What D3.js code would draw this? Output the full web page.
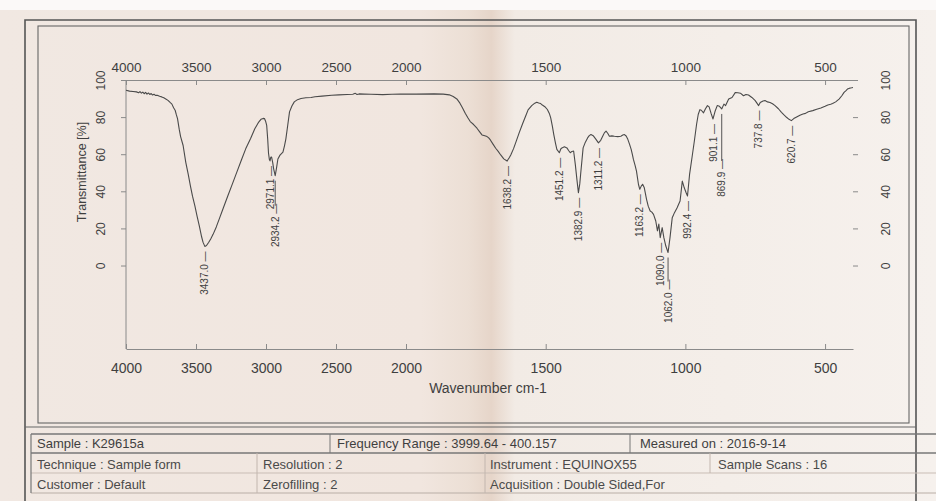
<!DOCTYPE html>
<html>
<head>
<meta charset="utf-8">
<script src="https://cdn.jsdelivr.net/npm/d3@7/dist/d3.min.js"></script>
<style>
  html, body { margin: 0; padding: 0; background: #f4ece6; }
  svg { display: block; }
  text { font-family: "Liberation Sans", Arial, sans-serif; }
</style>
</head>
<body>
<svg id="chart" width="936" height="501"></svg>
<script>
// ---------------- data ----------------
const wavenumbers = [
  3999.6, 3975, 3950, 3925, 3910, 3900, 3890, 3880, 3870, 3860, 3850, 3840, 3830, 3820, 3810, 3800,
  3790, 3777, 3760, 3745, 3730, 3716, 3700, 3685, 3672, 3660, 3649, 3640, 3632, 3620, 3610, 3592,
  3573, 3555, 3540, 3525, 3508, 3492, 3476, 3460, 3450, 3437, 3425, 3410, 3395, 3378, 3355, 3335,
  3305, 3273, 3240, 3209, 3175, 3145, 3110, 3080, 3055, 3036, 3020, 3011, 3003, 2995, 2988, 2982,
  2976, 2971.1, 2966, 2960, 2952, 2945, 2934.2, 2925, 2915, 2900, 2879, 2868, 2858, 2845, 2832, 2815,
  2798, 2775, 2750, 2715, 2678, 2650, 2600, 2531, 2480, 2420, 2380, 2362, 2350, 2335, 2300, 2250,
  2166, 2100, 2040, 1964, 1900, 1867, 1845, 1831, 1818, 1807, 1798, 1788, 1778, 1770, 1758, 1746,
  1737, 1728, 1718, 1710, 1704, 1698, 1688, 1679, 1670, 1661, 1650, 1638.2, 1630, 1625, 1615, 1606,
  1595, 1582, 1572, 1563, 1550, 1539, 1532, 1525, 1518, 1512, 1503, 1494, 1487, 1482, 1476, 1471,
  1465, 1460, 1451.2, 1446, 1442, 1433, 1424, 1418, 1412, 1406, 1400, 1394, 1388, 1382.9, 1378, 1375,
  1370, 1366, 1358, 1350, 1344, 1338, 1330, 1320, 1311.2, 1303, 1296, 1290, 1284, 1278, 1272, 1263,
  1254, 1242, 1231, 1224, 1218, 1212, 1206, 1200, 1194, 1190, 1186, 1180, 1175, 1168, 1163.2, 1158,
  1153, 1147, 1143, 1139, 1133, 1126, 1120, 1114, 1106, 1100, 1095, 1090.0, 1083, 1077, 1070, 1062.0,
  1055, 1047, 1039, 1030, 1019, 1011, 1004, 998, 992.4, 985, 976, 968, 960, 954, 948, 943,
  935, 928, 921, 915, 908, 901.1, 894, 886, 878, 869.9, 862, 856, 845, 833, 821, 812,
  803, 792, 783, 774, 762, 750, 737.8, 732, 722, 715, 706, 697, 688, 679, 667, 656,
  647, 638, 629, 620.7, 612, 600, 590, 579, 570, 560, 544, 530, 515, 500, 490, 480,
  473, 462, 450, 440, 432, 425, 420, 412, 405, 400.2
];
const transmittance = [
  94.5, 94.0, 93.8, 93.6, 93.1, 93.7, 92.9, 93.5, 92.6, 93.3, 92.4, 93.0, 92.2, 92.7, 91.9, 92.3,
  91.7, 91.8, 91.2, 90.9, 90.4, 89.8, 89.0, 87.9, 87.0, 85.0, 83.7, 81.2, 79.2, 73.5, 69.5, 64.7,
  55.6, 49.0, 42.9, 37.4, 32.1, 26.5, 21.2, 15.5, 12.6, 10.3, 10.8, 12.4, 14.3, 16.8, 20.8, 24.9,
  31.0, 37.5, 44.0, 50.2, 57.0, 62.9, 68.5, 73.7, 77.0, 78.8, 79.3, 79.2, 77.8, 75.5, 68.3, 60.5,
  57.2, 56.4, 58.3, 58.5, 55.5, 52.0, 48.4, 52.5, 57.4, 59.5, 61.1, 64.5, 68.3, 75.5, 82.8, 86.0,
  88.2, 89.4, 90.0, 90.4, 90.6, 91.0, 91.3, 91.8, 92.0, 92.2, 92.3, 92.8, 92.2, 92.5, 92.4, 92.3,
  92.1, 92.3, 92.4, 92.4, 92.5, 92.4, 92.0, 91.1, 89.8, 87.5, 85.0, 82.1, 79.5, 77.6, 76.0, 74.0,
  72.2, 70.4, 69.9, 69.5, 68.8, 67.7, 65.3, 63.2, 61.5, 59.6, 57.5, 56.3, 58.2, 59.6, 63.0, 66.8,
  71.5, 76.7, 80.5, 83.9, 86.2, 87.5, 88.0, 87.6, 87.3, 86.5, 85.6, 84.1, 82.0, 79.6, 75.0, 70.6,
  66.0, 62.6, 60.8, 62.8, 63.4, 64.0, 63.4, 62.0, 60.8, 61.5, 61.7, 54.5, 46.0, 39.2, 44.0, 49.1,
  57.0, 63.4, 66.5, 68.8, 70.0, 70.6, 70.0, 68.0, 66.1, 67.5, 69.7, 71.5, 72.4, 71.3, 69.7, 69.9,
  69.7, 69.5, 69.7, 70.3, 70.6, 69.8, 68.0, 65.4, 62.6, 60.0, 57.2, 54.0, 50.9, 43.8, 41.1, 42.8,
  43.8, 41.9, 38.8, 35.7, 32.0, 29.4, 28.8, 27.6, 24.0, 18.7, 22.3, 15.0, 20.4, 15.0, 10.5, 7.0,
  15.0, 25.8, 28.5, 31.0, 34.8, 45.5, 41.9, 39.5, 37.5, 49.1, 58.5, 67.0, 76.0, 81.4, 84.0, 83.7,
  82.3, 84.5, 86.2, 85.5, 82.0, 79.0, 83.0, 86.2, 85.8, 84.4, 87.0, 86.2, 89.7, 90.6, 93.3, 93.1,
  92.9, 91.5, 92.2, 91.9, 90.6, 88.9, 86.2, 87.9, 88.7, 88.9, 88.2, 87.9, 87.2, 86.2, 84.5, 82.6,
  81.2, 79.9, 78.8, 78.1, 79.2, 80.2, 81.0, 81.7, 82.0, 82.9, 83.5, 84.2, 84.9, 85.8, 86.5, 86.9,
  87.3, 88.2, 89.7, 91.5, 93.3, 94.3, 95.1, 95.6, 95.8, 96.0
];
const peakWavenumbers = [3437.0, 2971.1, 2934.2, 1638.2, 1451.2, 1382.9, 1311.2, 1163.2, 1090.0, 1062.0, 992.4, 901.1, 869.9, 737.8, 620.7];
const xTicks = [4000, 3500, 3000, 2500, 2000, 1500, 1000, 500];
const yTicks = [0, 20, 40, 60, 80, 100];
const xTitle = "Wavenumber cm-1";
const yTitle = "Transmittance [%]";
const infoRow1 = ["Sample : K29615a", "Frequency Range : 3999.64 - 400.157", "Measured on : 2016-9-14"];
const infoRow2 = ["Technique : Sample form", "Resolution : 2", "Instrument :  EQUINOX55", "Sample Scans : 16"];
const infoRow3 = ["Customer : Default", "Zerofilling : 2", "Acquisition :  Double Sided,For"];

// ---------------- layout ----------------
const svg = d3.select("#chart");
const W = 936, H = 501;
const plot = { left: 126, right: 853, top: 80, bottom: 349 };

// background paper
const defs = svg.append("defs");
const grad = defs.append("linearGradient").attr("id", "paper").attr("x1", "0").attr("x2", "1").attr("y1", "0").attr("y2", "0");
[["0%", "#f1e8e2"], ["45%", "#f1e6df"], ["50%", "#ecdfd5"], ["52.5%", "#e6d5c9"], ["55%", "#f2ebe5"], ["100%", "#f6f1ed"]]
  .forEach(([o, c]) => grad.append("stop").attr("offset", o).attr("stop-color", c));
svg.append("rect").attr("width", W).attr("height", H).attr("fill", "url(#paper)");
svg.append("rect").attr("width", W).attr("height", 10).attr("fill", "#fbf9f8");

// frames
const frame = svg.append("g").attr("fill", "none");
frame.append("path").attr("d", `M25,${H} V20 H916 V${H}`).attr("stroke", "#555").attr("stroke-width", 1.6);
frame.append("rect").attr("x", 38).attr("y", 26).attr("width", 871).attr("height", 397).attr("stroke", "#666").attr("stroke-width", 1.1);
frame.append("line").attr("x1", 25).attr("x2", 916).attr("y1", 427).attr("y2", 427).attr("stroke", "#666").attr("stroke-width", 1.1);

// ---------------- scales ----------------
const x = d3.scaleLinear().domain([4000, 2000, 400]).range([plot.left, 406, plot.right]);
const y = d3.scaleLinear().domain([-45, 100]).range([plot.bottom, plot.top]);

const axisColor = "#8a8a8a";
const textColor = "#3f3f3f";

// top axis
const gTop = svg.append("g").attr("transform", `translate(0,${plot.top})`)
  .call(d3.axisTop(x).tickValues(xTicks).tickSizeInner(-5).tickSizeOuter(0).tickPadding(8).tickFormat(d3.format("d")));
// bottom axis
const gBot = svg.append("g").attr("transform", `translate(0,${plot.bottom})`)
  .call(d3.axisBottom(x).tickValues(xTicks).tickSizeInner(-5).tickSizeOuter(0).tickPadding(14).tickFormat(d3.format("d")));
gTop.selectAll("text").attr("font-size", 13.5);
gBot.selectAll("text").attr("font-size", 14);
[gTop, gBot].forEach(g => {
  g.select(".domain").attr("stroke", axisColor).attr("stroke-width", 1);
  g.selectAll(".tick line").attr("stroke", axisColor);
  g.selectAll("text").attr("fill", textColor).attr("font-family", "Liberation Sans, Arial, sans-serif");
});

// left axis
const gLeft = svg.append("g").attr("transform", `translate(${plot.left},0)`)
  .call(d3.axisLeft(y).tickValues(yTicks).tickSizeInner(5).tickSizeOuter(0));
gLeft.select(".domain").attr("stroke", axisColor).attr("d", `M0,${plot.top}V${plot.bottom}`);
gLeft.selectAll(".tick line").attr("stroke", axisColor);
gLeft.selectAll("text")
  .attr("x", null).attr("dy", "0.35em").attr("text-anchor", "middle")
  .attr("transform", "translate(-25,0) rotate(-90)")
  .attr("font-size", 12).attr("fill", textColor).attr("font-family", "Liberation Sans, Arial, sans-serif");

// right axis (ticks + labels, no line)
const gRight = svg.append("g").attr("transform", `translate(${plot.right},0)`)
  .call(d3.axisRight(y).tickValues(yTicks).tickSizeInner(5).tickSizeOuter(0));
gRight.select(".domain").remove();
gRight.selectAll(".tick line").attr("stroke", axisColor);
gRight.selectAll("text")
  .attr("x", null).attr("dy", "0.35em").attr("text-anchor", "middle")
  .attr("transform", "translate(33,0) rotate(-90)")
  .attr("font-size", 12).attr("fill", textColor).attr("font-family", "Liberation Sans, Arial, sans-serif");

// axis titles
svg.append("text").attr("x", 488).attr("y", 393).attr("text-anchor", "middle")
  .attr("font-size", 14).attr("fill", textColor).text(xTitle);
svg.append("text").attr("transform", "translate(82,172) rotate(-90)").attr("dy", "0.35em")
  .attr("text-anchor", "middle").attr("font-size", 12.5).attr("fill", textColor).text(yTitle);

// ---------------- spectrum ----------------
const spectrum = wavenumbers.map((w, i) => ({ w, t: transmittance[i] }));
svg.append("path").datum(spectrum)
  .attr("fill", "none").attr("stroke", "#4a4a4a").attr("stroke-width", 1.1).attr("stroke-linejoin", "round")
  .attr("d", d3.line().x(d => x(d.w)).y(d => y(d.t)));

// ---------------- peak labels ----------------
const labelDrop = { "2934.2": 23, "1062.0": 22, "869.9": 45 };
const gPeaks = svg.append("g");
peakWavenumbers.forEach(p => {
  const i = wavenumbers.findIndex(w => Math.abs(w - p) < 0.05);
  const px = x(p), py = y(transmittance[i]);
  const key = p.toFixed(1);
  const drop = labelDrop[key] || 0;
  const yEnd = py + 5 + drop;
  if (drop > 0) {
    gPeaks.append("line").attr("x1", px).attr("x2", px).attr("y1", py + 5).attr("y2", yEnd + 2)
      .attr("stroke", "#555").attr("stroke-width", 1);
  }
  gPeaks.append("text")
    .attr("transform", `translate(${px},${yEnd}) rotate(-90)`)
    .attr("dy", "0.35em").attr("text-anchor", "end")
    .attr("font-size", 10).attr("fill", textColor)
    .text(key + " \u2014");
});

// ---------------- info table ----------------
const table = svg.append("g").attr("font-size", 13).attr("fill", textColor);
const tl = svg.append("g").attr("stroke", "#777").attr("fill", "none");
tl.append("line").attr("x1", 31).attr("x2", W).attr("y1", 434).attr("y2", 434).attr("stroke-width", 1.3);
tl.append("line").attr("x1", 31).attr("x2", W).attr("y1", 453).attr("y2", 453).attr("stroke-width", 1.3);
tl.append("line").attr("x1", 31).attr("x2", W).attr("y1", 473).attr("y2", 473).attr("stroke", "#c9bdb5");
tl.append("line").attr("x1", 31).attr("x2", W).attr("y1", 493).attr("y2", 493).attr("stroke", "#b9aea6");
tl.append("line").attr("x1", 31).attr("x2", 31).attr("y1", 434).attr("y2", 493).attr("stroke-width", 1.2);
tl.append("line").attr("x1", 330).attr("x2", 330).attr("y1", 434).attr("y2", 453);
tl.append("line").attr("x1", 630).attr("x2", 630).attr("y1", 434).attr("y2", 453);
tl.append("line").attr("x1", 257).attr("x2", 257).attr("y1", 453).attr("y2", 493).attr("stroke", "#c2b6ae");
tl.append("line").attr("x1", 485).attr("x2", 485).attr("y1", 453).attr("y2", 493).attr("stroke", "#c2b6ae");
tl.append("line").attr("x1", 710).attr("x2", 710).attr("y1", 453).attr("y2", 473).attr("stroke", "#c2b6ae");

const row1X = [37, 337, 640], row2X = [37, 263, 490, 718], row3X = [37, 263, 490];
infoRow1.forEach((s, i) => table.append("text").attr("x", row1X[i]).attr("y", 448).text(s));
infoRow2.forEach((s, i) => table.append("text").attr("x", row2X[i]).attr("y", 469).attr("fill", "#4a4a4a").text(s));
infoRow3.forEach((s, i) => table.append("text").attr("x", row3X[i]).attr("y", 489).attr("fill", "#4a4a4a").text(s));
</script>
</body>
</html>
